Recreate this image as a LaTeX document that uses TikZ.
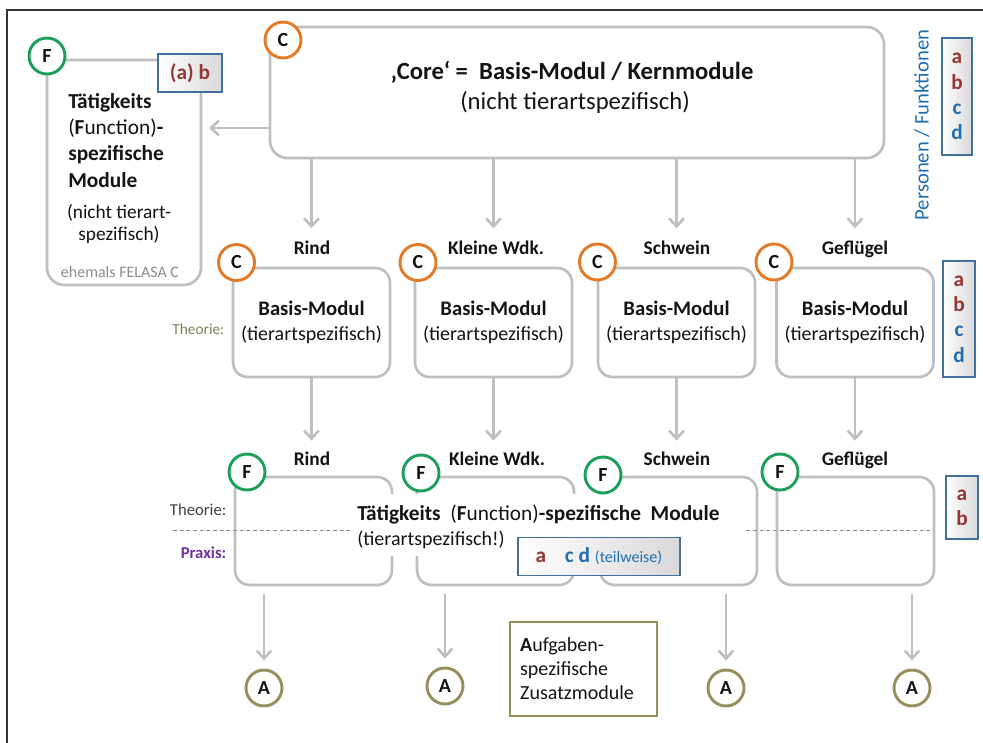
\documentclass[tikz,border=0pt]{standalone}
\usepackage{fontspec}
\setmainfont{Carlito}
\usetikzlibrary{arrows.meta,calc}
\definecolor{grau}{RGB}{191,191,191}
\definecolor{orangeC}{RGB}{226,122,40}
\definecolor{gruenF}{RGB}{30,158,92}
\definecolor{olivA}{RGB}{150,142,92}
\definecolor{rotab}{RGB}{149,55,53}
\definecolor{blaucd}{RGB}{31,110,176}
\definecolor{pblau}{RGB}{65,113,156}
\definecolor{lila}{RGB}{112,48,160}
\definecolor{theo}{RGB}{128,128,88}
\definecolor{strich}{RGB}{120,140,160}
\definecolor{schwarz}{RGB}{20,20,20}
\tikzset{
    modul/.style={draw=grau,line width=2pt,rounded corners=11pt,fill=white,inner sep=0pt,align=center,text=schwarz,font=\fontsize{15}{19}\selectfont},
    reihe2/.style={modul,minimum width=117.75pt,minimum height=81.75pt},
    reihe3/.style={modul,minimum width=117.75pt,minimum height=81pt},
    kreis/.style={circle,draw=#1,line width=2.2pt,fill=white,minimum size=27pt,inner sep=0pt,text=schwarz,font=\fontsize{15}{15}\selectfont\bfseries},
    pfeil/.style={grau,line width=2pt,-{Straight Barb[length=6pt,width=11pt]}},
    tier/.style={font=\fontsize{14.5}{14.5}\selectfont\bfseries,text=schwarz,text height=10pt,text depth=2pt},
    pbox/.style={draw=pblau,line width=0.9pt,left color=white,right color=black!15,inner sep=0pt,align=center,font=\fontsize{16}{19}\selectfont\bfseries},
  }
\newcommand{\basismodul}{{\fontsize{15.5}{19}\selectfont\bfseries Basis-Modul}\\(tierartspezifisch)}
\newcommand{\abcd}{\textcolor{rotab}{a}\\\textcolor{rotab}{b}\\\textcolor{blaucd}{c}\\\textcolor{blaucd}{d}}

\begin{document}
\begin{tikzpicture}[x=0.75pt,y=-0.75pt]
	\useasboundingbox (0,0) rectangle (983,743);
	%Rahmen
	\draw[line width=1.3pt,black!80] (7,743) -- (7,10) -- (983,10);

	%Kernmodul
	\node[modul,rounded corners=13pt,minimum width=460.5pt,minimum height=98.25pt] (Kern) at (577,92.5) {};
	\node[font=\fontsize{18.5}{22}\selectfont\bfseries,text=schwarz] (kt1) at (572,72) {‚Core‘ =~~Basis-Modul / Kernmodule};
	\node[font=\fontsize{18.5}{22}\selectfont,text=schwarz] (kt2) at (575,102) {(nicht tierartspezifisch)};
	\node[kreis=orangeC] (c0) at (283,40) {C};

	%Taetigkeits-Modul links
	\node[modul,rounded corners=13pt,minimum width=115.5pt,minimum height=168.75pt] (F0) at (124,172.5) {};
	\node[anchor=north west,align=left,inner sep=0pt,font=\fontsize{16}{19.7}\selectfont,text=schwarz] (ft1) at (68,93) {\textbf{Tätigkeits}\\(\textbf{F}unction)\textbf{-}\\\textbf{spezifische}\\\textbf{Module}};
	\node[align=center,font=\fontsize{14.5}{16.5}\selectfont,text=schwarz] (ft2) at (119,224) {(nicht tierart-\\spezifisch)};
	\node[font=\fontsize{12}{12}\selectfont,text=black!45] (ft3) at (120,272) {ehemals FELASA C};
	\node[pbox,minimum width=48pt,minimum height=28.5pt,text=rotab] (p0) at (190,73) {(a) b};
	\node[kreis=gruenF] (f0) at (47,56) {F};
	\coordinate (links) at (270,128);
	\draw[pfeil,shorten >=5pt] (links) -- (links -| F0.east);

	%Personen
	\node[rotate=90,font=\fontsize{15.5}{15.5}\selectfont,text=blaucd] (pf) at (922,125) {Personen / Funktionen};
	\node[pbox,minimum width=22.5pt,minimum height=87.75pt] (p1) at (957,96.5) {\abcd};

	%Basis-Module
	\node[reihe2] (B1) at (311.5,322.5) {\basismodul};
	\node[reihe2] (B2) at (493.5,322.5) {\basismodul};
	\node[reihe2] (B3) at (676.5,322.5) {\basismodul};
	\node[reihe2] (B4) at (855,322.5) {\basismodul};
	\node[kreis=orangeC] (c1) at (236.5,262.5) {C};
	\node[kreis=orangeC] (c2) at (418,262.5) {C};
	\node[kreis=orangeC] (c3) at (597.5,262) {C};
	\node[kreis=orangeC] (c4) at (774,262) {C};
	\node[tier] (l1) at (312,249) {Rind};
	\node[tier] (l2) at (496,249) {Kleine Wdk.};
	\node[tier] (l3) at (677,249) {Schwein};
	\node[tier] (l4) at (855,249) {Geflügel};
	\node[anchor=east,font=\fontsize{11.5}{11.5}\selectfont,text=theo] (th1) at (229,329) {Theorie:};
	\node[pbox,minimum width=24pt,minimum height=87pt] (p2) at (959,319) {\abcd};
	\draw[pfeil,shorten >=6pt] (Kern.south -| B1) -- (B1 |- l1.north);
	\draw[pfeil,shorten >=6pt] (Kern.south -| B2) -- (B2 |- l2.north);
	\draw[pfeil,shorten >=6pt] (Kern.south -| B3) -- (B3 |- l3.north);
	\draw[pfeil,shorten >=6pt] (Kern.south -| B4) -- (B4 |- l4.north);

	%Taetigkeits-Module
	\node[reihe3] (T1) at (313.5,531) {};
	\node[reihe3] (T2) at (495.5,531) {};
	\node[reihe3] (T3) at (678.5,531) {};
	\node[reihe3] (T4) at (855.5,531) {};
	\draw[strich,line width=0.6pt,dash pattern=on 3pt off 2pt] (173,530) -- (933,530);
	\node[fill=white,minimum width=296.25pt,minimum height=46.5pt,inner sep=0pt] (mitte) at (547.5,525) {};
	\node[anchor=west,align=left,inner sep=0pt,font=\fontsize{16}{19}\selectfont,text=schwarz] (mt) at (357,527) {\textbf{Tätigkeits}~~(\textbf{F}unction)\textbf{-spezifische}~~\textbf{Module}\\{\fontsize{15}{19}\selectfont(tierartspezifisch!)}};
	\node[pbox,minimum width=121.5pt,minimum height=29pt] (p3) at (599,556.5) {\textcolor{rotab}{a}\hspace{14pt}\textcolor{blaucd}{c d {\fontsize{12}{12}\selectfont\mdseries(teilweise)}}};
	\node[kreis=gruenF] (f1) at (247,472) {F};
	\node[kreis=gruenF] (f2) at (421,473) {F};
	\node[kreis=gruenF] (f3) at (603,475) {F};
	\node[kreis=gruenF] (f4) at (780,472) {F};
	\node[tier] (l5) at (312,460) {Rind};
	\node[tier] (l6) at (497,460) {Kleine Wdk.};
	\node[tier] (l7) at (677,460) {Schwein};
	\node[tier] (l8) at (855,460) {Geflügel};
	\node[anchor=east,font=\fontsize{12.5}{12.5}\selectfont,text=black!75] (th2) at (231,510) {Theorie:};
	\node[anchor=east,font=\fontsize{12.5}{12.5}\selectfont\bfseries,text=lila] (pr) at (231,553) {Praxis:};
	\node[pbox,minimum width=24pt,minimum height=47.25pt] (p4) at (962,507.5) {\textcolor{rotab}{a}\\\textcolor{rotab}{b}};
	\draw[pfeil,shorten >=5pt] (B1.south) -- (B1.south |- l5.north);
	\draw[pfeil,shorten >=5pt] (B2.south) -- (B2.south |- l6.north);
	\draw[pfeil,shorten >=5pt] (B3.south) -- (B3.south |- l7.north);
	\draw[pfeil,shorten >=5pt] (B4.south) -- (B4.south |- l8.north);

	%Aufgaben-Module
	\node[kreis=olivA] (A1) at (264,688) {A};
	\node[kreis=olivA] (A2) at (445,686) {A};
	\node[kreis=olivA] (A3) at (726,688) {A};
	\node[kreis=olivA] (A4) at (912,688) {A};
	\draw[pfeil,shorten <=6pt,shorten >=6pt] (A1 |- T1.south) -- (A1.north);
	\draw[pfeil,shorten <=6pt,shorten >=6pt] (A2 |- T2.south) -- (A2.north);
	\draw[pfeil,shorten <=6pt,shorten >=6pt] (A3 |- T3.south) -- (A3.north);
	\draw[pfeil,shorten <=6pt,shorten >=6pt] (A4 |- T4.south) -- (A4.north);
	\node[draw=olivA,line width=0.9pt,minimum width=110.25pt,minimum height=70.5pt,text width=95pt,inner xsep=7.5pt,align=left,font=\fontsize{15}{18}\selectfont,text=schwarz] (zm) at (583.5,669) {\textbf{A}ufgaben-\\spezifische\\Zusatzmodule};
\end{tikzpicture}
\end{document}
